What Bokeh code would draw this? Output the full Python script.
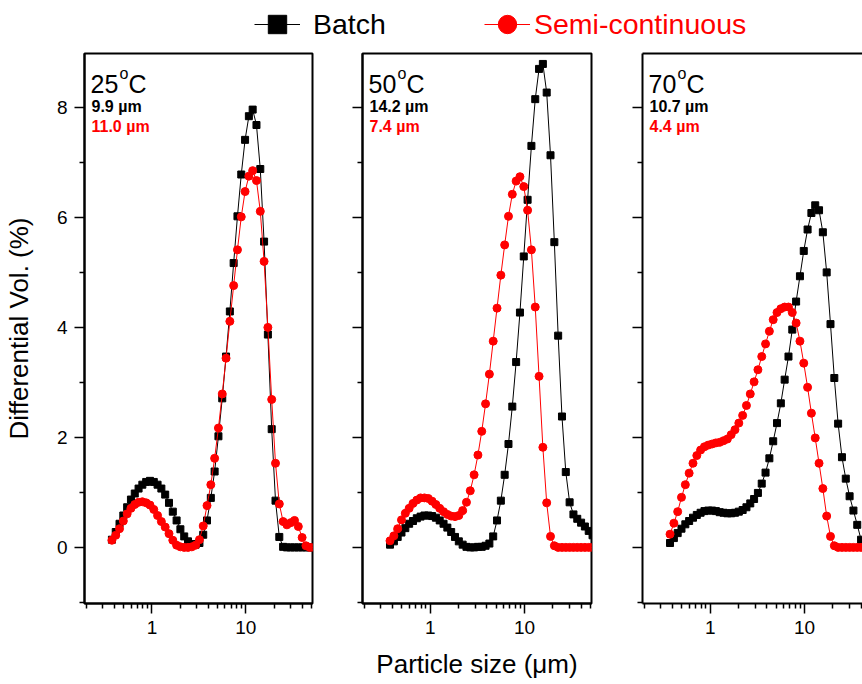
from bokeh.plotting import figure
from bokeh.models import (Range1d, FixedTicker, PrintfTickFormatter, Label, Legend,
                          LegendItem, ColumnDataSource, LogAxis, CustomJSTickFormatter)
from bokeh.layouts import column, row
from bokeh.embed import file_html
from bokeh.resources import INLINE

# ---------------- data ----------------
sizes = [0.375, 0.412, 0.452, 0.496, 0.545, 0.598, 0.657, 0.721, 0.791, 0.869,
         0.954, 1.047, 1.149, 1.261, 1.385, 1.520, 1.669, 1.832, 2.011, 2.208,
         2.423, 2.660, 2.920, 3.206, 3.519, 3.862, 4.240, 4.655, 5.110, 5.610,
         6.158, 6.760, 7.421, 8.147, 8.944, 9.819, 10.78, 11.83, 12.99, 14.26,
         15.65, 17.18, 18.86, 20.71, 22.73, 24.95, 27.39, 30.07, 33.01, 36.24,
         39.78, 43.67, 47.94, 52.63]

batch_25 = [0.14, 0.28, 0.43, 0.58, 0.73, 0.87, 0.98, 1.07, 1.14, 1.19,
            1.21, 1.19, 1.14, 1.07, 0.96, 0.81, 0.65, 0.49, 0.33, 0.20,
            0.11, 0.06, 0.05, 0.08, 0.23, 0.49, 0.90, 1.38, 2.02, 2.71,
            3.47, 4.29, 5.17, 6.02, 6.78, 7.41, 7.84, 7.96, 7.68, 6.88,
            5.56, 3.87, 2.15, 0.85, 0.19, 0.01, 0.00, 0.00, 0.00, 0.00,
            0.00, 0.00, 0.00, 0.00]
semi_25 = [0.13, 0.22, 0.34, 0.48, 0.61, 0.71, 0.78, 0.82, 0.83, 0.81,
           0.77, 0.69, 0.58, 0.47, 0.37, 0.25, 0.13, 0.04, 0.01, 0.00,
           0.00, 0.01, 0.04, 0.14, 0.39, 0.76, 1.14, 1.62, 2.17, 2.79,
           3.44, 4.11, 4.76, 5.41, 6.01, 6.47, 6.75, 6.85, 6.67, 6.11,
           5.20, 4.00, 2.69, 1.53, 0.79, 0.47, 0.41, 0.45, 0.49, 0.38,
           0.18, 0.03, 0.00, 0.00]
batch_50 = [0.05, 0.11, 0.19, 0.27, 0.35, 0.43, 0.48, 0.53, 0.56, 0.58,
            0.58, 0.57, 0.54, 0.49, 0.43, 0.36, 0.28, 0.19, 0.11, 0.05,
            0.01, 0.00, 0.00, 0.01, 0.01, 0.03, 0.07, 0.20, 0.49, 0.85,
            1.32, 1.88, 2.56, 3.37, 4.27, 5.29, 6.32, 7.30, 8.15, 8.70,
            8.79, 8.27, 7.13, 5.55, 3.85, 2.38, 1.37, 0.82, 0.60, 0.52,
            0.45, 0.38, 0.30, 0.22]
semi_50 = [0.12, 0.21, 0.34, 0.50, 0.62, 0.71, 0.80, 0.86, 0.90, 0.90,
           0.89, 0.84, 0.78, 0.71, 0.65, 0.60, 0.57, 0.56, 0.58, 0.67,
           0.82, 1.03, 1.32, 1.68, 2.11, 2.61, 3.15, 3.75, 4.35, 4.95,
           5.50, 6.02, 6.42, 6.66, 6.74, 6.56, 6.13, 5.41, 4.37, 3.11,
           1.82, 0.81, 0.20, 0.03, 0.00, 0.00, 0.00, 0.00, 0.00, 0.00,
           0.00, 0.00, 0.00, 0.00]
batch_70 = [0.08, 0.17, 0.26, 0.34, 0.42, 0.48, 0.54, 0.59, 0.63, 0.66,
            0.67, 0.67, 0.66, 0.64, 0.63, 0.62, 0.62, 0.63, 0.65, 0.68,
            0.73, 0.80, 0.88, 0.99, 1.16, 1.36, 1.62, 1.93, 2.26, 2.62,
            3.05, 3.47, 3.96, 4.47, 4.93, 5.39, 5.78, 6.08, 6.22, 6.13,
            5.73, 5.00, 4.06, 3.08, 2.25, 1.64, 1.25, 0.93, 0.67, 0.41,
            0.14, 0.02, 0.00, 0.00]
semi_70 = [0.24, 0.44, 0.65, 0.91, 1.14, 1.35, 1.53, 1.67, 1.77, 1.83,
           1.86, 1.88, 1.90, 1.91, 1.94, 1.97, 2.05, 2.14, 2.26, 2.40,
           2.58, 2.79, 3.01, 3.23, 3.47, 3.70, 3.93, 4.14, 4.27, 4.34,
           4.37, 4.37, 4.27, 4.08, 3.75, 3.35, 2.91, 2.44, 1.99, 1.53,
           1.07, 0.57, 0.20, 0.03, 0.00, 0.00, 0.00, 0.00, 0.00, 0.00,
           0.00, 0.00, 0.00, 0.00]

temps = ["25", "50", "70"]
batch_mode = ["9.9 µm", "14.2 µm", "10.7 µm"]
semi_mode = ["11.0 µm", "7.4 µm", "4.4 µm"]
series_names = ["Batch", "Semi-continuous"]

x_major = [1, 10]
x_minor = [0.2, 0.3, 0.4, 0.5, 0.6, 0.7, 0.8, 0.9, 2, 3, 4, 5, 6, 7, 8, 9, 20, 30, 40, 50]
y_major = [0, 2, 4, 6, 8]
y_minor = [-1, 1, 3, 5, 7]

# ---------------- style ----------------
FONT = "Liberation Sans"
BLACK = "#000000"
RED = "#ff0000"
X0, X1, X1_LAST = 0.1915, 51.3, 41.2
Y0, Y1 = -1.02, 8.98
PANEL_H = 634


def style_axes(p, show_ylabels, xlabel, ylabel):
    xa = p.below[0]
    ya = p.left[0]
    xa.ticker = FixedTicker(ticks=x_major, minor_ticks=x_minor)
    ya.ticker = FixedTicker(ticks=y_major, minor_ticks=y_minor)
    xa.formatter = PrintfTickFormatter(format="%d")
    for ax in (xa, ya):
        ax.axis_line_width = 2
        ax.axis_line_color = BLACK
        ax.major_tick_out = 10
        ax.major_tick_in = 0
        ax.minor_tick_out = 5
        ax.minor_tick_in = 0
        ax.major_tick_line_width = 1.5
        ax.minor_tick_line_width = 1.5
        ax.major_tick_line_color = BLACK
        ax.minor_tick_line_color = BLACK
        ax.major_label_text_font = FONT
        ax.major_label_text_font_size = "19px"
        ax.major_label_text_color = BLACK
        ax.axis_label_text_font = FONT
        ax.axis_label_text_font_size = "26px"
        ax.axis_label_text_font_style = "normal"
        ax.axis_label_text_color = BLACK
    xa.major_label_standoff = 7
    xa.axis_label = xlabel
    xa.axis_label_standoff = 12
    if show_ylabels:
        ya.major_label_standoff = 7
        ya.axis_label = ylabel
        ya.axis_label_standoff = 20
    else:
        ya.formatter = CustomJSTickFormatter(code="return ''")
        ya.major_label_standoff = 0
        ya.axis_label = None


def make_panel(i, width, left, right, xend, batch, semi, show_y, xlabel, full_outline):
    p = figure(width=width, height=PANEL_H, x_axis_type="log",
               x_range=Range1d(X0, xend), y_range=Range1d(Y0, Y1),
               output_backend="svg", toolbar_location=None,
               min_border_left=left, min_border_right=right,
               min_border_top=3, min_border_bottom=81)
    p.grid.visible = False
    p.background_fill_color = "white"
    p.border_fill_color = "white"
    style_axes(p, show_y, xlabel, "Differential Vol. (%)")
    if full_outline:
        p.outline_line_color = BLACK
        p.outline_line_width = 2
    else:
        p.outline_line_color = None
        top = LogAxis(ticker=FixedTicker(ticks=[], minor_ticks=[]),
                      formatter=CustomJSTickFormatter(code="return ''"),
                      axis_line_width=2, axis_line_color=BLACK,
                      major_tick_out=0, major_tick_in=0, minor_tick_out=0, minor_tick_in=0,
                      major_label_standoff=0)
        p.add_layout(top, "above")

    src = ColumnDataSource(dict(x=sizes, b=batch, s=semi))
    p.line("x", "b", source=src, line_color=BLACK, line_width=1)
    p.scatter("x", "b", source=src, marker="square", size=7, color=BLACK)
    p.line("x", "s", source=src, line_color=RED, line_width=1)
    p.scatter("x", "s", source=src, marker="circle", size=8, color=RED)

    p.add_layout(Label(x=X0, y=8.43, x_offset=6, text=temps[i], text_font=FONT,
                       text_font_size="25px", text_color=BLACK, text_baseline="alphabetic"))
    p.add_layout(Label(x=X0, y=8.62, x_offset=35, text="o", text_font=FONT,
                       text_font_size="16px", text_color=BLACK, text_baseline="alphabetic"))
    p.add_layout(Label(x=X0, y=8.43, x_offset=44, text="C", text_font=FONT,
                       text_font_size="25px", text_color=BLACK, text_baseline="alphabetic"))
    p.add_layout(Label(x=X0, y=8.01, x_offset=7, text=batch_mode[i], text_font=FONT,
                       text_font_size="16px", text_font_style="bold", text_color=BLACK,
                       text_baseline="alphabetic"))
    p.add_layout(Label(x=X0, y=7.65, x_offset=7, text=semi_mode[i], text_font=FONT,
                       text_font_size="16px", text_font_style="bold", text_color=RED,
                       text_baseline="alphabetic"))
    return p


p1 = make_panel(0, 337, 83, 25, X1, batch_25, semi_25, True, None, True)
p2 = make_panel(1, 280, 25, 26, X1, batch_50, semi_50, False, "Particle size (μm)", True)
p3 = make_panel(2, 245, 25, 0, X1_LAST, batch_70, semi_70, False, None, False)

# ---------------- legend strip ----------------
# the series are drawn here only as legend swatches; the y-range keeps the marks out of view
lf = figure(width=862, height=50, toolbar_location=None, output_backend="svg",
            x_range=Range1d(0, 1), y_range=Range1d(100, 101),
            min_border_left=0, min_border_right=0, min_border_top=0, min_border_bottom=0)
lf.axis.visible = False
lf.grid.visible = False
lf.outline_line_color = None
lf.background_fill_color = "white"
lsrc = ColumnDataSource(dict(x=sizes, b=batch_25, s=semi_25))
lb = lf.line("x", "b", source=lsrc, line_color=BLACK, line_width=1)
sb = lf.scatter("x", "b", source=lsrc, marker="square", color=BLACK, size=7)
lr = lf.line("x", "s", source=lsrc, line_color=RED, line_width=1)
sr = lf.scatter("x", "s", source=lsrc, marker="circle", color=RED, size=8)

common = dict(orientation="horizontal", glyph_width=46, glyph_height=46,
              label_text_font=FONT, label_text_font_size="28.5px",
              padding=0, margin=0, border_line_color=None, background_fill_alpha=0)
leg1 = Legend(items=[LegendItem(label=series_names[0], renderers=[lb, sb])],
              location=(254, 3), label_standoff=13, label_text_color=BLACK, **common)
leg2 = Legend(items=[LegendItem(label=series_names[1], renderers=[lr, sr])],
              location=(484, 3), label_standoff=4, label_text_color=RED, **common)
lf.add_layout(leg1)
lf.add_layout(leg2)

layout = column(lf, row(p1, p2, p3))
open("out.html", "w").write(file_html(layout, INLINE))
